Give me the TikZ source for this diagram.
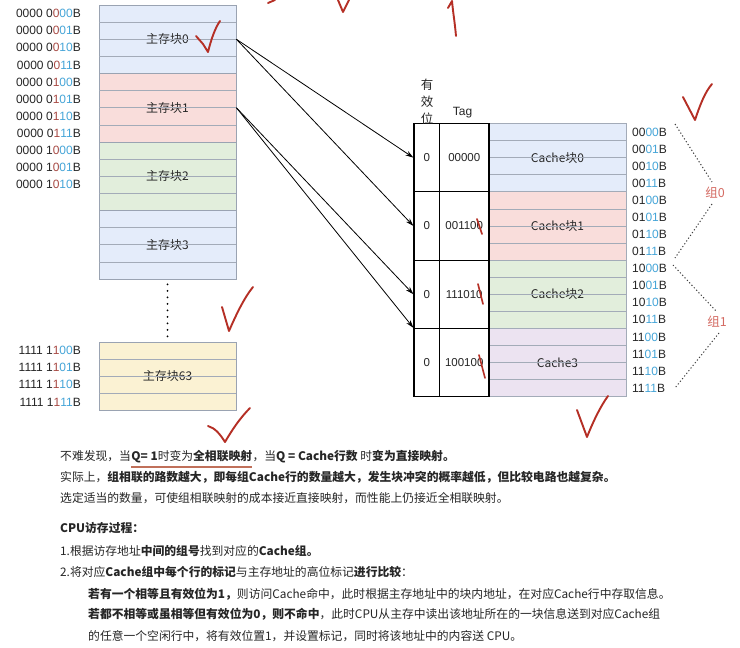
\documentclass[tikz,border=0pt]{standalone}
\usepackage{fontspec}
\setmainfont{Liberation Sans}
\newfontfamily\cjk{Noto Sans CJK SC}
\usetikzlibrary{arrows.meta}
\definecolor{addrred}{HTML}{A84A44}
\definecolor{addrblue}{HTML}{45A5D8}
\definecolor{txt}{HTML}{262626}
\definecolor{fblue}{HTML}{E4ECFA}
\definecolor{fpink}{HTML}{F9DDDB}
\definecolor{fgreen}{HTML}{E2EEDC}
\definecolor{fyellow}{HTML}{FBF2D3}
\definecolor{fpurple}{HTML}{ECE3F1}
\definecolor{rowline}{HTML}{A3ABB8}
\definecolor{blkborder}{HTML}{9AA3B2}
\definecolor{pen}{HTML}{B52F25}
\definecolor{grp}{HTML}{D46A62}
\definecolor{uline}{HTML}{C0705A}
\newcommand\addrL[3]{\textcolor{txt}{#1}\textcolor{addrred}{#2}\textcolor{addrblue}{#3}\textcolor{txt}{B}}
\newcommand\addrR[2]{\textcolor{txt}{#1}\textcolor{addrblue}{#2}\textcolor{txt}{B}}
\begin{document}
\begin{tikzpicture}[x=1pt,y=-1pt,
  addr/.style={font=\fontsize{12}{14}\selectfont, inner sep=0pt},
  mblk/.style={draw=blkborder, line width=0.8pt, minimum width=137pt, minimum height=68.5pt, inner sep=0pt, font=\cjk\fontsize{12}{14}\selectfont, text=txt},
  dcell/.style={draw=rowline, line width=0.8pt, minimum width=137pt, minimum height=68.3pt, inner sep=0pt, font=\cjk\fontsize{12}{14}\selectfont, text=txt},
  vcell/.style={draw=black, line width=1.2pt, minimum width=25.5pt, minimum height=68.3pt, inner sep=0pt, font=\fontsize{11.5}{14}\selectfont, text=txt},
  tcell/.style={draw=black, line width=1.2pt, minimum width=49.5pt, minimum height=68.3pt, inner sep=0pt, font=\fontsize{11.5}{14}\selectfont, text=txt},
  rowl/.style={draw=rowline, line width=0.7pt},
  arr/.style={draw=black, line width=0.8pt, -{Stealth[length=8pt,width=5pt]}},
  vdots/.style={draw=black, line width=2pt, line cap=round, dash pattern=on 0pt off 6.5pt},
  gdots/.style={draw=black!75, line width=1pt, dash pattern=on 1.2pt off 2.2pt},
  glab/.style={font=\cjk\fontsize{12.5}{14}\selectfont, text=grp, inner sep=0pt},
  body/.style={anchor=base west, inner sep=0pt, font=\cjk\fontsize{11.8}{14}\selectfont, text=txt},
  penmark/.style={draw=pen, line width=1.9pt, line cap=round, line join=round}
]
\useasboundingbox (0,0) rectangle (740,648);
\fill[white] (0,0) rectangle (740,648);

% ---------- main memory ----------
\node[mblk, fill=fblue]   (mb0)  at (167.5,39.25)  {主存块0};
\node[mblk, fill=fpink]   (mb1)  at (167.5,107.75) {主存块1};
\node[mblk, fill=fgreen]  (mb2)  at (167.5,176.25) {主存块2};
\node[mblk, fill=fblue]   (mb3)  at (167.5,244.75) {主存块3};
\node[mblk, fill=fyellow] (mb63) at (167.5,376.25) {主存块63};
\foreach \t in {5,73.5,142,210.5,342}
  \foreach \k in {1,2,3}
    \draw[rowl] (99.4,{\t+\k*17.125}) -- (235.6,{\t+\k*17.125});
\draw[vdots, shorten <=5pt, shorten >=2pt] (mb3.south) -- (mb63.north);

% left addresses
\foreach \a/\b/\c [count=\i from 0] in {0000 0/0/00,0000 0/0/01,0000 0/0/10,0000 0/0/11,0000 0/1/00,0000 0/1/01,0000 0/1/10,0000 0/1/11,0000 1/0/00,0000 1/0/01,0000 1/0/10}
  \node[addr, anchor=east] (al\i) at (81,{5+17.125*(\i+0.5)}) {\addrL{\a}{\b}{\c}};
\foreach \a/\b/\c [count=\i from 0] in {1111 1/1/00,1111 1/1/01,1111 1/1/10,1111 1/1/11}
  \node[addr, anchor=east] (ab\i) at (81,{342+17.125*(\i+0.5)}) {\addrL{\a}{\b}{\c}};

% ---------- cache ----------
\foreach \i/\f/\lab in {0/fblue/Cache块0,1/fpink/Cache块1,2/fgreen/Cache块2,3/fpurple/Cache3}
  \node[dcell, fill=\f] (d\i) at (557.5,{157.65+68.3*\i}) {\lab};
\foreach \i in {0,...,3}
  \foreach \k in {1,2,3}
    \draw[rowl] (489.6,{123.5+68.3*\i+17.075*\k}) -- (625.6,{123.5+68.3*\i+17.075*\k});
\foreach \i/\tg in {0/00000,1/001100,2/111010,3/100100} {
  \node[vcell] (v\i) at (426.75,{157.65+68.3*\i}) {0};
  \node[tcell] (t\i) at (464.25,{157.65+68.3*\i}) {\tg};
}
\node[font=\cjk\fontsize{12.5}{17}\selectfont, text=txt, align=center, inner sep=0pt] (hv) at (427,102) {有\\效\\位};
\node[font=\fontsize{12}{14}\selectfont, text=txt, inner sep=0pt] (ht) at (462.5,113) {Tag};

% right addresses
\foreach \a/\b [count=\i from 0] in {00/00,00/01,00/10,00/11,01/00,01/01,01/10,01/11,10/00,10/01,10/10,10/11,11/00,11/01,11/10,11/11}
  \node[addr, anchor=west] (ar\i) at (632,{123.5+17.075*(\i+0.5)}) {\addrR{\a}{\b}};

% group brackets
\node[glab] (g0) at (715,193) {组0};
\node[glab] (g1) at (717,322) {组1};
\coordinate (g0a) at (675,124);
\coordinate (g0b) at (675,258);
\coordinate (g1a) at (673,265);
\coordinate (g1b) at (675,388);
\draw[gdots] (g0a) -- (712,182);
\draw[gdots] (712,204) -- (g0b);
\draw[gdots] (g1a) -- (716,311);
\draw[gdots] (719,333) -- (g1b);

% ---------- arrows ----------
\draw[arr] (mb0.east) -- (v0.west);
\draw[arr] (mb0.east) -- (v1.west);
\draw[arr] (mb1.east) -- (v2.west);
\draw[arr] (mb1.east) -- (v3.north west);

% ---------- text ----------
\node[body] (l1a) at (60,460.8) {不难发现，当};
\node[body] (l1b) at (l1a.base east) {{\bfseries Q= 1}时变为{\bfseries 全相联映射}};
\node[body] (l1c) at (l1b.base east) {，当{\bfseries Q = Cache行数} 时{\bfseries 变为直接映射。}};
\draw[draw=uline, line width=1.4pt] ([yshift=-6pt]l1b.base west) -- ([yshift=-6pt]l1b.base east);
\node[body] (l2) at (60,481.8) {实际上，{\bfseries 组相联的路数越大，即每组Cache行的数量越大，发生块冲突的概率越低，但比较电路也越复杂。}};
\node[body] (l3) at (60,502.8) {选定适当的数量，可使组相联映射的成本接近直接映射，而性能上仍接近全相联映射。};
\node[body] (l4) at (60,532.8) {\bfseries CPU访存过程：};
\node[body] (l5) at (60,555.8) {1.根据访存地址{\bfseries 中间的组号}找到对应的{\bfseries Cache组。}};
\node[body] (l6) at (60,576.8) {2.将对应{\bfseries Cache组中每个行的标记}与主存地址的高位标记{\bfseries 进行比较}：};
\node[body] (l7) at (88,598.8) {{\bfseries 若有一个相等且有效位为1，}则访问Cache命中，此时根据主存地址中的块内地址，在对应Cache行中存取信息。};
\node[body] (l8) at (88,618.8) {{\bfseries 若都不相等或虽相等但有效位为0，则不命中}，此时CPU从主存中读出该地址所在的一块信息送到对应Cache组};
\node[body] (l9) at (88,640.8) {的任意一个空闲行中，将有效位置1，并设置标记，同时将该地址中的内容送 CPU。};

% ---------- hand-drawn red marks ----------
\draw[penmark] (196,36) -- (203,44) -- (208,52) .. controls (211,40) and (215,28) .. (220,21);
\draw[penmark] (683,97) -- (695,120) .. controls (700,105) and (705,92) .. (712,84);
\draw[penmark] (222,307) -- (229,331) .. controls (236,315) and (244,298) .. (253,287);
\draw[penmark] (208,426) .. controls (215,428) and (220,434) .. (225,442) .. controls (232,430) and (240,418) .. (250,408);
\draw[penmark] (577,410) -- (587,437) .. controls (593,422) and (600,407) .. (608,396);
\draw[penmark] (338,0) -- (343,12) -- (349,0);
\draw[penmark] (268,3) -- (275,0);
\draw[penmark] (448,8) -- (452,1) .. controls (453,12) and (455,24) .. (456,36);
\draw[penmark, line width=1.6pt] (477,219) -- (482,234);
\draw[penmark, line width=1.6pt] (478,284) -- (483,304);
\draw[penmark, line width=1.6pt] (479,355) -- (485,378);
\end{tikzpicture}
\end{document}
